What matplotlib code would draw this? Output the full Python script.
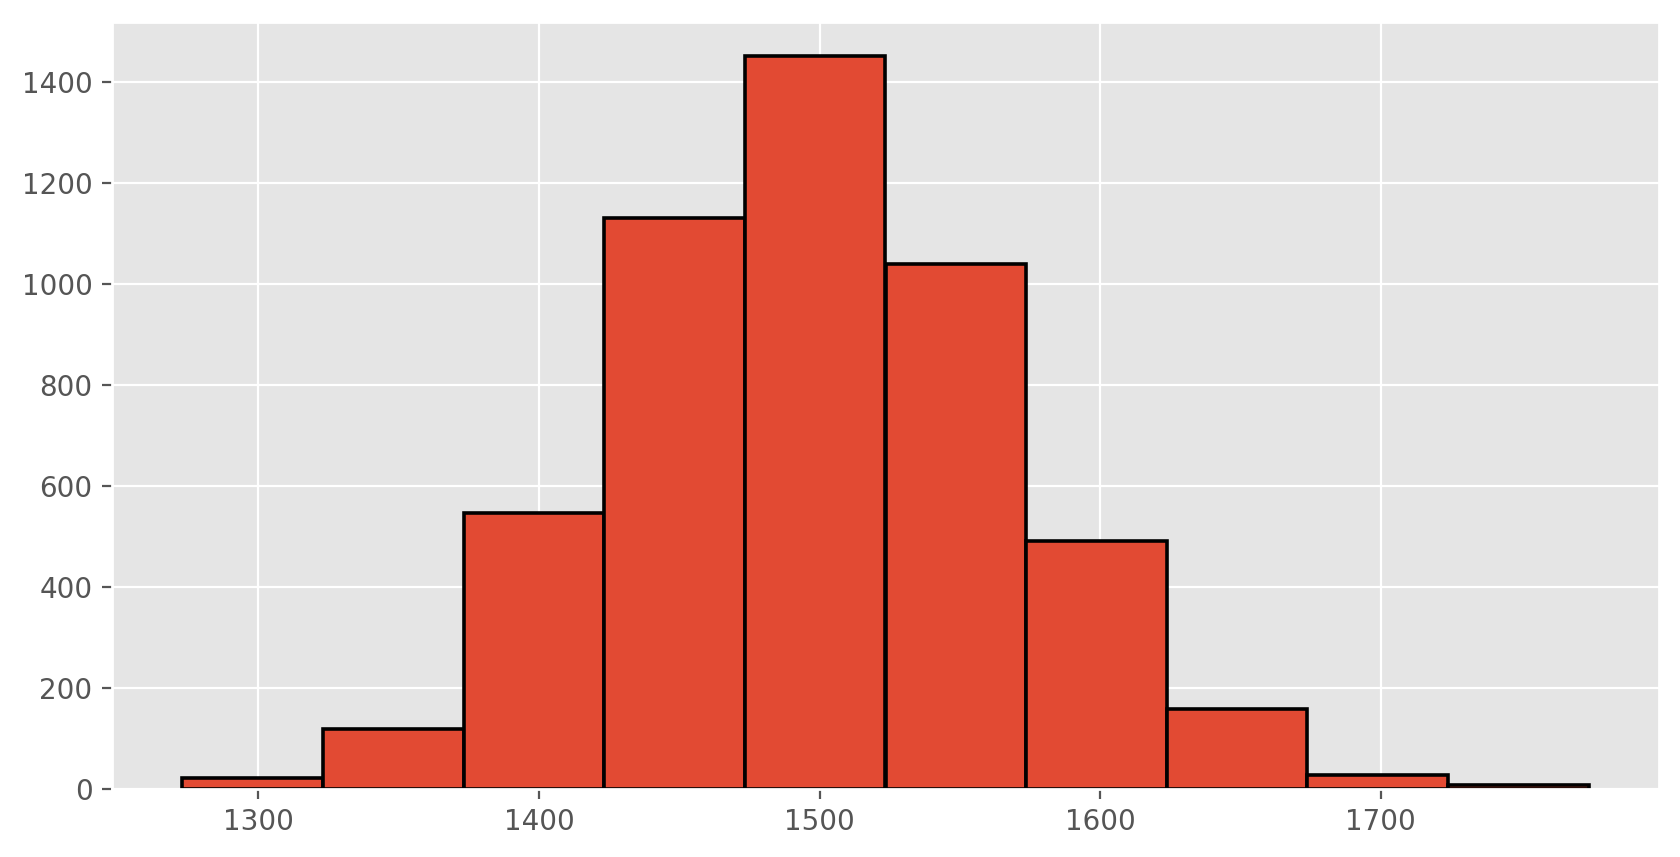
import matplotlib
matplotlib.use("Agg")
import matplotlib.pyplot as plt
import numpy as np

plt.style.use("ggplot")

# Histogram data
bin_start = 1272.9
bin_end = 1774.1
n_bins = 10
counts = [22, 119, 547, 1131, 1450, 1039, 490, 159, 28, 8]

edges = np.linspace(bin_start, bin_end, n_bins + 1)
centers = (edges[:-1] + edges[1:]) / 2

fig = plt.figure(figsize=(8.4, 4.285), dpi=200)
ax = fig.add_axes([112 / 1680, 1 - 789 / 857, (1659 - 112) / 1680, (789 - 22) / 857])
ax.hist(centers, bins=edges, weights=counts, color="#E24A33",
        edgecolor="black", linewidth=1.3)
ax.set_ylim(0, 1518)
ax.set_yticks([0, 200, 400, 600, 800, 1000, 1200, 1400])
ax.set_xticks([1300, 1400, 1500, 1600, 1700])

fig.savefig("out.png", dpi=200)
